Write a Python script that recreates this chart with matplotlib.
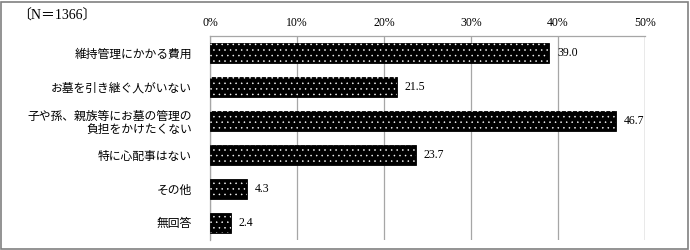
import matplotlib
matplotlib.use('Agg')
import matplotlib.pyplot as plt
from matplotlib.patches import Rectangle

plt.rcParams['font.family'] = ['Liberation Serif', 'Noto Sans CJK JP', 'DejaVu Sans']
plt.rcParams['hatch.linewidth'] = 0.35

# ── Data ──────────────────────────────────────────────────────────
categories = ['維持管理にかかる費用', 'お墓を引き継ぐ人がいない',
              '子や孫、親族等にお墓の管理の\n負担をかけたくない',
              '特に心配事はない', 'その他', '無回答']
values = [39.0, 21.5, 46.7, 23.7, 4.3, 2.4]
xticks = [0, 10, 20, 30, 40, 50]
xtick_labels = ['0%', '10%', '20%', '30%', '40%', '50%']
n_label = '〔N＝1366〕'

GRID = '#a6a6a6'

fig = plt.figure(figsize=(6.9, 2.5), dpi=100)
ax = fig.add_axes([0.3043, 0.04, 0.6304, 0.816])

y = list(range(len(categories)))
h = 0.58
# black fill, white dot hatch on top
ax.barh(y, values, height=h, color='black', edgecolor='black', linewidth=0.6, zorder=3)
ax.barh(y, values, height=h, color='none', edgecolor='white', hatch='...',
        linewidth=0, zorder=4)

for yi, v in zip(y, values):
    ax.text(v + 0.9, yi, f'{v:.1f}', va='center', ha='left', fontsize=8.5, zorder=5)

ax.set_xlim(0, 50)
ax.set_ylim(len(categories) - 0.5, -0.5)
ax.set_xticks(xticks)
ax.set_xticklabels(xtick_labels, fontsize=8.5)
ax.xaxis.tick_top()
ax.tick_params(axis='x', length=0, pad=5)
ax.set_yticks(y)
ax.set_yticklabels(categories, fontsize=8.5, linespacing=1.15)
ax.tick_params(axis='y', length=0, pad=13)

ax.grid(axis='x', color=GRID, linewidth=0.9, zorder=0)
for s in ('bottom', 'right'):
    ax.spines[s].set_visible(False)
for s in ('top', 'left'):
    ax.spines[s].set_color(GRID)
    ax.spines[s].set_linewidth(0.9)
ax.axvline(50, ymax=1, color=GRID, linewidth=0.9, zorder=0)

fig.text(0.025, 0.935, n_label, fontsize=10, ha='left', va='center')

# outer frame
fig.patches.append(Rectangle((0.002, 0.004), 0.995, 0.99, transform=fig.transFigure,
                             fill=False, edgecolor='#808080', linewidth=1.2))

fig.savefig('out.png', dpi=100)
